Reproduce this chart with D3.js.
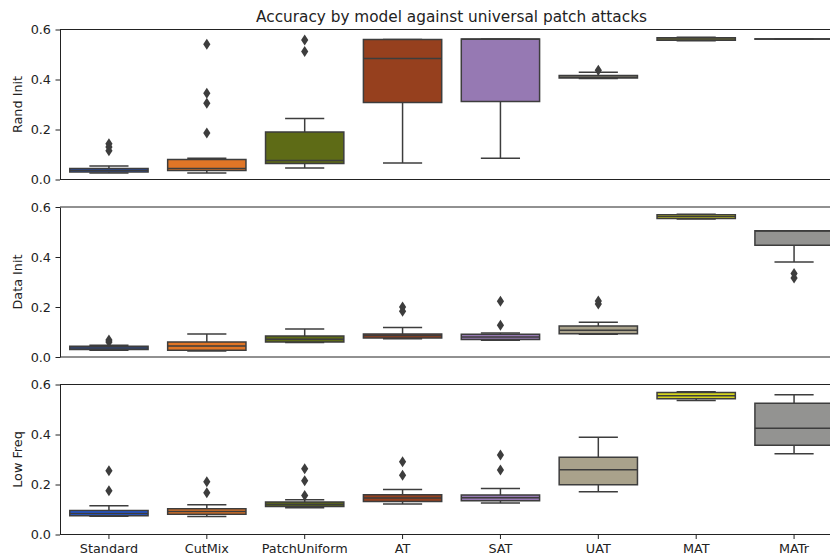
<!DOCTYPE html>
<html>
<head>
<meta charset="utf-8">
<script src="https://cdn.jsdelivr.net/npm/d3@7"></script>
<style>
  html, body { margin: 0; padding: 0; background: #fff; overflow: hidden; }
  svg { display: block; }
  text { font-family: "DejaVu Sans", sans-serif; }
</style>
</head>
<body>
<svg id="chart" width="830" height="557"></svg>
<script>
// Models on the x axis and their box colours
const models = ["Standard", "CutMix", "PatchUniform", "AT", "SAT", "UAT", "MAT", "MATr"];
const modelColors = ["#2155d4", "#e07526", "#5e6b16", "#96401e", "#9679b3", "#a9a28b", "#d4d41e", "#939391"];

// Attack initialisations, one panel each
const panelNames = ["Rand Init", "Data Init", "Low Freq"];
const yTicks = [0.0, 0.2, 0.4, 0.6];

// Box statistics per model: [lower whisker, Q1, median, Q3, upper whisker]
const randInitStats = [
  [0.026, 0.030, 0.037, 0.044, 0.054],
  [0.026, 0.036, 0.044, 0.080, 0.085],
  [0.046, 0.064, 0.076, 0.190, 0.244],
  [0.066, 0.308, 0.484, 0.560, 0.560],
  [0.085, 0.312, 0.561, 0.562, 0.562],
  [0.404, 0.406, 0.409, 0.416, 0.429],
  [0.555, 0.557, 0.562, 0.567, 0.569],
  [0.561, 0.5615, 0.562, 0.5625, 0.563]
];
const randInitFliers = [
  [0.115, 0.13, 0.143], [0.186, 0.305, 0.345, 0.541], [0.512, 0.558], [], [], [0.437], [], []
];

const dataInitStats = [
  [0.027, 0.030, 0.036, 0.043, 0.047],
  [0.024, 0.027, 0.044, 0.060, 0.092],
  [0.058, 0.060, 0.071, 0.084, 0.112],
  [0.073, 0.076, 0.086, 0.092, 0.118],
  [0.067, 0.070, 0.080, 0.091, 0.096],
  [0.091, 0.093, 0.107, 0.124, 0.139],
  [0.552, 0.554, 0.562, 0.569, 0.571],
  [0.380, 0.447, 0.504, 0.505, 0.505]
];
const dataInitFliers = [
  [0.060, 0.068], [], [], [0.183, 0.200], [0.127, 0.223], [0.212, 0.224], [], [0.316, 0.334]
];

const lowFreqStats = [
  [0.073, 0.075, 0.084, 0.096, 0.115],
  [0.072, 0.081, 0.092, 0.103, 0.119],
  [0.107, 0.112, 0.120, 0.130, 0.139],
  [0.122, 0.132, 0.146, 0.159, 0.180],
  [0.126, 0.135, 0.147, 0.158, 0.184],
  [0.171, 0.199, 0.259, 0.309, 0.389],
  [0.536, 0.543, 0.555, 0.568, 0.571],
  [0.323, 0.357, 0.425, 0.525, 0.559]
];
const lowFreqFliers = [
  [0.175, 0.255], [0.167, 0.211], [0.156, 0.215, 0.263], [0.237, 0.291], [0.258, 0.318], [], [], []
];

const panelStats = [randInitStats, dataInitStats, lowFreqStats];
const panelFliers = [randInitFliers, dataInitFliers, lowFreqFliers];

const svg = d3.select("#chart");
const left = 60, right = 843;
const panelTops = [29.5, 207, 384.5];
const panelH = 150;
const lineColor = "#3d3d3d";
const textColor = "#222";

const x = d3.scaleBand().domain(models).range([left, right]).padding(0);
const boxW = x.bandwidth() * 0.8;
const capW = boxW * 0.5;

svg.append("text")
  .attr("x", (left + right) / 2)
  .attr("y", 22)
  .attr("text-anchor", "middle")
  .attr("font-size", "15.3px")
  .attr("fill", textColor)
  .text("Accuracy by model against universal patch attacks");

// thin diamond flier marker
const diamond = "M0,-5.6 L3.6,0 L0,5.6 L-3.6,0 Z";

panelNames.forEach((name, pi) => {
  const top = panelTops[pi];
  const bottom = top + panelH;
  const y = d3.scaleLinear().domain([0, 0.6]).range([bottom, top]);
  const g = svg.append("g");
  const stats = panelStats[pi];
  const fliers = panelFliers[pi];

  models.forEach((m, i) => {
    const s = stats[i];
    const cx = x(m) + x.bandwidth() / 2;
    const bg = g.append("g");
    // whiskers
    bg.append("line").attr("x1", cx).attr("x2", cx).attr("y1", y(s[0])).attr("y2", y(s[1]))
      .attr("stroke", lineColor).attr("stroke-width", 1.5);
    bg.append("line").attr("x1", cx).attr("x2", cx).attr("y1", y(s[3])).attr("y2", y(s[4]))
      .attr("stroke", lineColor).attr("stroke-width", 1.5);
    // caps
    [s[0], s[4]].forEach(v => {
      bg.append("line").attr("x1", cx - capW / 2).attr("x2", cx + capW / 2)
        .attr("y1", y(v)).attr("y2", y(v))
        .attr("stroke", lineColor).attr("stroke-width", 1.5);
    });
    // box
    bg.append("rect")
      .attr("x", cx - boxW / 2).attr("width", boxW)
      .attr("y", y(s[3])).attr("height", Math.max(0.01, y(s[1]) - y(s[3])))
      .attr("fill", modelColors[i])
      .attr("stroke", lineColor).attr("stroke-width", 1.5);
    // median
    bg.append("line").attr("x1", cx - boxW / 2).attr("x2", cx + boxW / 2)
      .attr("y1", y(s[2])).attr("y2", y(s[2]))
      .attr("stroke", lineColor).attr("stroke-width", 1.5);
    // outliers
    fliers[i].forEach(v => {
      bg.append("path").attr("d", diamond)
        .attr("transform", `translate(${cx},${y(v)})`)
        .attr("fill", lineColor);
    });
  });

  // y axis
  const ya = g.append("g").attr("transform", `translate(${left},0)`)
    .call(d3.axisLeft(y).tickValues(yTicks).tickFormat(d3.format(".1f")).tickSize(4.5).tickPadding(4.5).tickSizeOuter(0));
  ya.selectAll("text").attr("font-size", "12.8px").attr("fill", textColor).attr("font-family", "DejaVu Sans, sans-serif");
  ya.selectAll("line").attr("stroke", textColor).attr("stroke-width", 1);
  ya.select(".domain").attr("stroke", textColor).attr("stroke-width", 1);

  // top, bottom and right spines
  [top, bottom].forEach(yy => {
    g.append("line").attr("x1", left).attr("x2", right).attr("y1", yy).attr("y2", yy)
      .attr("stroke", textColor).attr("stroke-width", 1);
  });
  g.append("line").attr("x1", right).attr("x2", right).attr("y1", top).attr("y2", bottom)
    .attr("stroke", textColor).attr("stroke-width", 1);

  // panel label
  g.append("text")
    .attr("transform", `translate(22,${(top + bottom) / 2}) rotate(-90)`)
    .attr("text-anchor", "middle")
    .attr("font-size", "12.8px")
    .attr("fill", textColor)
    .text(name);

  if (pi === panelNames.length - 1) {
    const xa = g.append("g").attr("transform", `translate(0,${bottom})`)
      .call(d3.axisBottom(x).tickSize(4.5).tickPadding(4.5).tickSizeOuter(0));
    xa.selectAll("text").attr("font-size", "12.8px").attr("fill", textColor).attr("font-family", "DejaVu Sans, sans-serif");
    xa.selectAll("line").attr("stroke", textColor).attr("stroke-width", 1);
    xa.select(".domain").remove();
  }
});
</script>
</body>
</html>
